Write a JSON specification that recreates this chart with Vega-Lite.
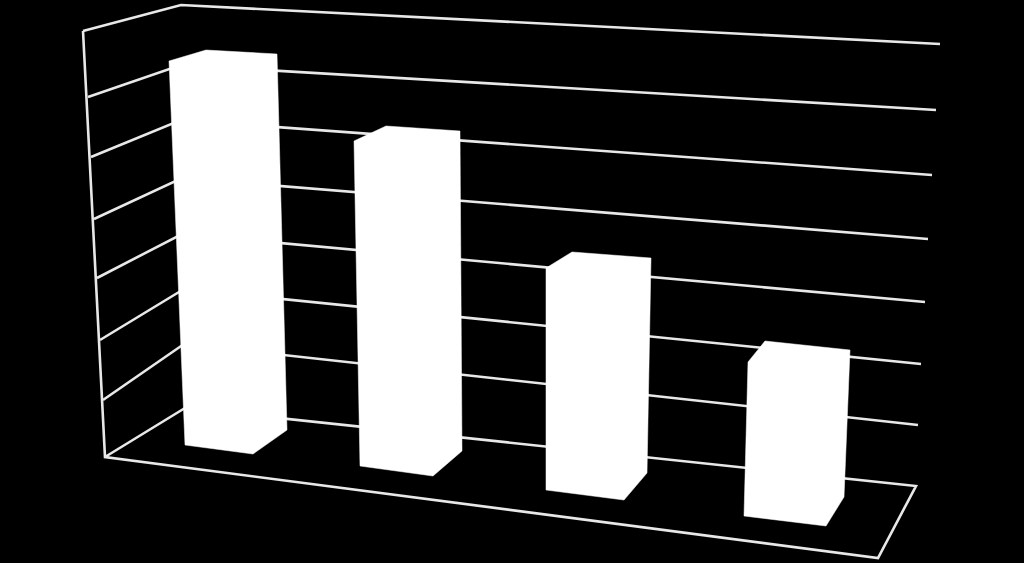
{"$schema":"https://vega.github.io/schema/vega-lite/v6.json","width":1024,"height":563,"padding":0,"autosize":{"type":"none"},"background":"#000000","view":{"stroke":null},"config":{"axis":{"domain":false,"grid":false,"ticks":false,"labels":false,"title":null}},
"datasets":{"frame":[
{"s":"top","i":0,"a":83,"b":31},{"s":"top","i":1,"a":181,"b":5},{"s":"top","i":2,"a":940,"b":44},
{"s":"left","i":0,"a":83,"b":31},{"s":"left","i":1,"a":105,"b":457},{"s":"left","i":2,"a":878,"b":558},{"s":"left","i":3,"a":916,"b":486},{"s":"left","i":4,"a":185,"b":408},{"s":"left","i":5,"a":105,"b":457},
{"s":"g1","i":0,"a":88,"b":97},{"s":"g1","i":1,"a":181,"b":65},{"s":"g1","i":2,"a":936,"b":110},
{"s":"g2","i":0,"a":91,"b":157},{"s":"g2","i":1,"a":181,"b":120},{"s":"g2","i":2,"a":932,"b":175},
{"s":"g3","i":0,"a":94,"b":219},{"s":"g3","i":1,"a":182,"b":178},{"s":"g3","i":2,"a":928,"b":239},
{"s":"g4","i":0,"a":97,"b":278},{"s":"g4","i":1,"a":182,"b":234},{"s":"g4","i":2,"a":925,"b":302},
{"s":"g5","i":0,"a":100,"b":340},{"s":"g5","i":1,"a":184,"b":289},{"s":"g5","i":2,"a":921,"b":364},
{"s":"g6","i":0,"a":103,"b":400},{"s":"g6","i":1,"a":184,"b":344},{"s":"g6","i":2,"a":918,"b":425}
],"bars":[
{"s":"b1","i":0,"a":169,"b":61},{"s":"b1","i":1,"a":206,"b":50},{"s":"b1","i":2,"a":277,"b":54},{"s":"b1","i":3,"a":287,"b":430},{"s":"b1","i":4,"a":253,"b":454},{"s":"b1","i":5,"a":185,"b":445},{"s":"b1","i":6,"a":169,"b":61},
{"s":"b2","i":0,"a":354,"b":141},{"s":"b2","i":1,"a":386,"b":126},{"s":"b2","i":2,"a":460,"b":131},{"s":"b2","i":3,"a":462,"b":451},{"s":"b2","i":4,"a":433,"b":476},{"s":"b2","i":5,"a":360,"b":466},{"s":"b2","i":6,"a":354,"b":141},
{"s":"b3","i":0,"a":546,"b":268},{"s":"b3","i":1,"a":572,"b":252},{"s":"b3","i":2,"a":651,"b":258},{"s":"b3","i":3,"a":647,"b":473},{"s":"b3","i":4,"a":624,"b":500},{"s":"b3","i":5,"a":546,"b":490},{"s":"b3","i":6,"a":546,"b":268},
{"s":"b4","i":0,"a":748,"b":362},{"s":"b4","i":1,"a":765,"b":341},{"s":"b4","i":2,"a":850,"b":350},{"s":"b4","i":3,"a":844,"b":497},{"s":"b4","i":4,"a":826,"b":526},{"s":"b4","i":5,"a":744,"b":516},{"s":"b4","i":6,"a":748,"b":362}
]},
"encoding":{"x":{"field":"a","type":"quantitative","scale":{"domain":[0,1024]},"axis":null},"y":{"field":"b","type":"quantitative","scale":{"domain":[563,0]},"axis":null},"detail":{"field":"s"},"order":{"field":"i"}},
"layer":[
{"data":{"name":"frame"},"mark":{"type":"line","stroke":"#e8e8e8","strokeWidth":2.6,"interpolate":"linear","clip":false}},
{"data":{"name":"bars"},"mark":{"type":"line","stroke":"#ffffff","fill":"#ffffff","strokeWidth":0.5,"interpolate":"linear","clip":false}}
]}
